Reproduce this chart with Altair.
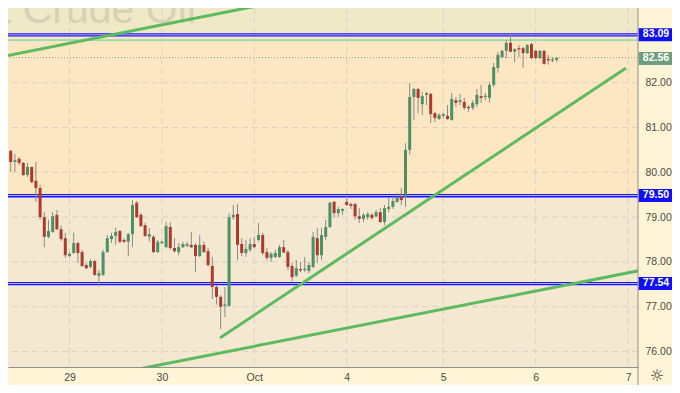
import altair as alt
import pandas as pd

# ---------------- data (hourly candles) ----------------
bar_index = list(range(133))
open_ = [80.10, 80.39, 80.48, 80.23, 80.30, 80.21, 79.94, 80.12, 79.81, 79.65,
         79.00, 78.56, 78.67, 79.05, 78.73, 78.53, 78.13, 78.20, 78.42, 78.22,
         77.93, 77.89, 78.02, 77.69, 77.71, 78.22, 78.51, 78.58, 78.69, 78.49,
         78.45, 78.62, 79.32, 79.05, 78.82, 78.56, 78.56, 78.22, 78.42, 78.33,
         78.78, 78.31, 78.22, 78.33, 78.36, 78.38, 78.38, 78.13, 78.38, 78.24,
         77.91, 77.44, 77.22, 77.02, 77.02, 79.00, 79.07, 78.40, 78.20, 78.27,
         78.40, 78.49, 78.60, 78.22, 78.09, 78.11, 78.11, 78.33, 78.22, 77.91,
         77.69, 77.84, 77.82, 77.80, 77.89, 78.53, 78.15, 78.56, 78.78, 79.34,
         79.09, 79.14, 79.34, 79.29, 79.29, 79.02, 78.96, 79.00, 79.05, 79.02,
         79.11, 78.89, 79.18, 79.23, 79.34, 79.47, 79.45, 80.50, 81.68, 81.86,
         81.52, 81.73, 81.75, 81.32, 81.19, 81.26, 81.26, 81.17, 81.61, 81.57,
         81.57, 81.46, 81.44, 81.52, 81.70, 81.68, 81.66, 81.95, 82.33, 82.57,
         82.71, 82.89, 82.69, 82.77, 82.77, 82.66, 82.86, 82.71, 82.55, 82.71,
         82.53, 82.49, 82.51]
high = [80.45, 80.72, 80.50, 80.41, 80.34, 80.23, 80.21, 80.12, 80.23, 79.72,
        79.11, 78.94, 79.11, 79.16, 78.82, 78.65, 78.22, 78.65, 78.45, 78.27,
        77.98, 78.06, 78.04, 77.82, 78.27, 78.60, 78.65, 78.76, 78.71, 78.53,
        78.65, 79.38, 79.36, 79.09, 78.87, 78.76, 78.60, 78.49, 78.47, 78.89,
        78.89, 78.53, 78.42, 78.45, 78.45, 78.67, 78.42, 78.60, 78.45, 78.31,
        78.11, 77.48, 77.26, 77.44, 79.09, 79.27, 79.29, 78.53, 78.49, 78.53,
        78.56, 78.87, 78.65, 78.31, 78.22, 78.27, 78.38, 78.49, 78.27, 77.98,
        78.04, 78.00, 78.11, 78.00, 78.67, 78.76, 78.76, 78.94, 79.34, 79.36,
        79.23, 79.20, 79.49, 79.32, 79.32, 79.20, 79.09, 79.11, 79.09, 79.16,
        79.20, 79.27, 79.43, 79.43, 79.54, 79.65, 80.65, 82.00, 81.88, 81.88,
        81.79, 81.79, 81.77, 81.35, 81.32, 81.32, 81.50, 81.77, 81.68, 81.75,
        81.66, 81.50, 81.61, 81.86, 81.95, 81.77, 82.02, 82.44, 82.69, 82.73,
        82.95, 83.09, 82.77, 82.84, 82.80, 82.86, 82.89, 82.73, 82.73, 82.73,
        82.62, 82.57, 82.57]
low = [79.98, 80.27, 80.01, 80.01, 80.16, 79.92, 79.90, 79.76, 79.34, 78.94,
       78.33, 78.53, 78.65, 78.71, 78.47, 78.09, 78.11, 78.18, 77.98, 77.89,
       77.84, 77.86, 77.69, 77.46, 77.69, 78.20, 78.42, 78.38, 78.42, 78.42,
       78.13, 78.33, 78.98, 78.78, 78.56, 78.45, 78.20, 78.20, 78.40, 78.31,
       78.27, 78.20, 78.15, 78.31, 78.33, 78.31, 77.77, 78.11, 78.20, 77.89,
       77.17, 77.05, 76.50, 76.77, 77.00, 78.94, 78.04, 78.13, 78.11, 78.22,
       78.31, 78.45, 78.15, 78.04, 78.00, 78.09, 78.09, 78.20, 77.82, 77.57,
       77.66, 77.77, 77.77, 77.75, 77.86, 77.98, 78.04, 78.49, 78.76, 79.00,
       79.00, 79.05, 79.25, 79.18, 78.94, 78.87, 78.89, 78.94, 78.94, 79.00,
       78.87, 78.82, 79.11, 79.18, 79.32, 79.27, 79.23, 80.39, 81.17, 81.32,
       81.28, 81.50, 81.10, 81.12, 81.17, 81.21, 81.17, 81.15, 81.46, 81.50,
       81.39, 81.35, 81.39, 81.46, 81.55, 81.61, 81.55, 81.90, 82.22, 82.55,
       82.55, 82.68, 82.46, 82.57, 82.33, 82.64, 82.53, 82.53, 82.53, 82.40,
       82.40, 82.46, 82.46]
close = [80.39, 80.48, 80.23, 80.27, 80.21, 79.94, 80.12, 79.78, 79.65, 79.00,
         78.56, 78.69, 79.02, 78.73, 78.51, 78.15, 78.18, 78.42, 78.20, 77.91,
         77.86, 78.02, 77.71, 77.75, 78.22, 78.53, 78.58, 78.67, 78.45, 78.45,
         78.62, 79.27, 79.00, 78.80, 78.58, 78.62, 78.22, 78.45, 78.45, 78.80,
         78.31, 78.24, 78.33, 78.40, 78.40, 78.33, 78.13, 78.38, 78.22, 77.93,
         77.44, 77.22, 77.00, 77.04, 79.00, 79.05, 78.38, 78.20, 78.29, 78.40,
         78.33, 78.60, 78.20, 78.09, 78.18, 78.20, 78.33, 78.21, 77.89, 77.66,
         77.86, 77.82, 77.84, 77.93, 78.56, 78.15, 78.60, 78.78, 79.32, 79.09,
         79.18, 79.18, 79.27, 79.25, 79.02, 78.96, 79.05, 79.07, 78.98, 79.11,
         78.89, 79.20, 79.23, 79.36, 79.45, 79.38, 80.50, 81.68, 81.86, 81.66,
         81.70, 81.77, 81.30, 81.21, 81.28, 81.30, 81.19, 81.64, 81.55, 81.61,
         81.44, 81.43, 81.55, 81.73, 81.66, 81.70, 81.95, 82.35, 82.62, 82.71,
         82.89, 82.69, 82.75, 82.75, 82.66, 82.84, 82.55, 82.55, 82.71, 82.42,
         82.51, 82.51, 82.56]

day_ticks = [16, 38, 60, 82, 105, 127, 149]
day_labels = ["29", "30", "Oct", "4", "5", "6", "7"]
price_ticks = [76, 77, 78, 79, 80, 81, 82]

level_values = [83.09, 79.50, 77.54]
level_labels = ["83.09", "79.50", "77.54"]
last_price = 82.56
last_label = "82.56"
mint_level = 82.95

trend_x1 = [-5, 52.07, 33]
trend_y1 = [82.49, 76.32, 75.62]
trend_x2 = [75, 148.26, 153]
trend_y2 = [83.98, 82.31, 77.83]

zone_lo = [83.09, 79.50, 75.0]
zone_hi = [84.5, 83.09, 79.50]
zone_color = ["#EFE9C8", "#FDE6C2", "#F4E8D0"]

watermark = "Brent Crude Oil"

# ---------------- build ----------------
W, H = 630, 359          # plot area
PR, PB = 34, 18          # room for the price scale and the time scale
X = alt.Scale(domain=[1.357, 151.36], nice=False, zero=False)
Y = alt.Scale(domain=[75.655, 83.667], nice=False, zero=False)
FONT = "Liberation Sans"

expr = "''"
for v, l in reversed(list(zip(day_ticks, day_labels))):
    expr = f"datum.value == {v} ? '{l}' : ({expr})"

x_axis = alt.Axis(values=day_ticks, labelExpr=expr, title=None, grid=False, ticks=False,
                  domainColor="#8E8E8E", labelPadding=5, labelColor="#4A4A4A",
                  labelFontSize=10.5, labelFont=FONT, labelOverlap=False, labelFlush=False)
y_axis = alt.Axis(values=price_ticks, format=".2f", orient="right", title=None, grid=False,
                  ticks=False, domain=False, labelPadding=7, labelColor="#4A4A4A",
                  labelFontSize=10.5, labelFont=FONT, labelOverlap=False, labelFlush=False)

candles = pd.DataFrame({"i": bar_index, "o": open_, "h": high, "l": low, "c": close})
candles["dir"] = ["up" if c >= o else "down" for o, c in zip(candles.o, candles.c)]
candles["cd"] = [c if abs(c - o) >= 0.03 else (o + 0.03 if c >= o else o - 0.03)
                 for o, c in zip(candles.o, candles.c)]

zones = pd.DataFrame({"lo": zone_lo, "hi": zone_hi, "col": zone_color})
zone_layer = alt.Chart(zones).mark_rect(clip=True).encode(
    x=alt.value(0), x2=alt.value(W),
    y=alt.Y("lo:Q", scale=Y, axis=y_axis), y2="hi:Q",
    color=alt.Color("col:N", scale=None))

hgrid = alt.Chart(pd.DataFrame({"p": price_ticks})).mark_rule(
    color="#D8D3C6", strokeDash=[6, 4], strokeWidth=1).encode(
    y=alt.Y("p:Q", scale=Y, axis=y_axis))
vgrid = alt.Chart(pd.DataFrame({"d": day_ticks})).mark_rule(
    color="#D8D3C6", strokeDash=[6, 4], strokeWidth=1).encode(
    x=alt.X("d:Q", scale=X, axis=x_axis))

wm = alt.Chart(pd.DataFrame({"x": [46.1], "y": [83.33], "t": [watermark]})).mark_text(
    align="right", baseline="alphabetic", fontSize=41, color="#D9D1B3", font=FONT, clip=True
).encode(x=alt.X("x:Q", scale=X, axis=x_axis), y=alt.Y("y:Q", scale=Y, axis=y_axis), text="t:N")

mint = alt.Chart(pd.DataFrame({"p": [mint_level]})).mark_rule(
    color="#96DDB0", strokeWidth=1.6).encode(y=alt.Y("p:Q", scale=Y, axis=y_axis))
lastline = alt.Chart(pd.DataFrame({"p": [last_price]})).mark_rule(
    color="#8AA58F", strokeDash=[1, 2], strokeWidth=1).encode(y=alt.Y("p:Q", scale=Y, axis=y_axis))

lv = pd.DataFrame({"p": level_values + [v - 0.045 for v in level_values]})
levels = alt.Chart(lv).mark_rule(color="#1515FF", strokeWidth=1.3).encode(
    y=alt.Y("p:Q", scale=Y, axis=y_axis))

trends = pd.DataFrame({"x1": trend_x1, "y1": trend_y1, "x2": trend_x2, "y2": trend_y2})
trend_layer = alt.Chart(trends).mark_rule(
    clip=True, color="#5DBB5F", strokeWidth=3, strokeCap="round").encode(
    x=alt.X("x1:Q", scale=X, axis=x_axis), x2="x2:Q",
    y=alt.Y("y1:Q", scale=Y, axis=y_axis), y2="y2:Q")

wicks = alt.Chart(candles).mark_rule(clip=True, color="#8A8A8A", strokeWidth=1).encode(
    x=alt.X("i:Q", scale=X, axis=x_axis),
    y=alt.Y("l:Q", scale=Y, axis=y_axis), y2="h:Q")
bodies = alt.Chart(candles).mark_rule(clip=True, strokeWidth=3).encode(
    x=alt.X("i:Q", scale=X, axis=x_axis),
    y=alt.Y("o:Q", scale=Y, axis=y_axis), y2="cd:Q",
    color=alt.Color("dir:N", scale=alt.Scale(domain=["up", "down"], range=["#4C9066", "#AE3A2E"]),
                    legend=None))

lab = pd.DataFrame({"p": level_values + [last_price], "t": level_labels + [last_label],
                    "col": ["#1010F2"] * 3 + ["#6F9F7E"]})
lab["lo"] = lab.p - 0.165
lab["hi"] = lab.p + 0.125
label_box = alt.Chart(lab).mark_rect().encode(
    x=alt.value(W + 0.5), x2=alt.value(W + PR),
    y=alt.Y("lo:Q", scale=Y, axis=y_axis), y2="hi:Q",
    color=alt.Color("col:N", scale=None))
label_txt = alt.Chart(lab).mark_text(
    color="white", fontWeight="bold", fontSize=10.5, font=FONT, align="center", baseline="middle"
).encode(x=alt.value(W + 18), y=alt.Y("p:Q", scale=Y, axis=y_axis), text="t:N")

one = pd.DataFrame({"a": [0]})
sep = alt.Chart(one).mark_rule(color="#8E8E8E", strokeWidth=1).encode(
    x=alt.value(W), y=alt.value(0), y2=alt.value(H + PB))
gear = alt.Chart(one).mark_text(text="☼", fontSize=16, color="#333333", font="DejaVu Sans",
                                baseline="middle").encode(
    x=alt.value(W + 19), y=alt.value(H + 9))

chart = alt.layer(
    zone_layer, hgrid, vgrid, wm, mint, lastline, levels, trend_layer, wicks, bodies,
    label_box, label_txt, sep, gear
).properties(
    width=W, height=H,
    padding={"left": 0, "top": 0, "right": PR, "bottom": PB},
    autosize=alt.AutoSizeParams(type="none"),
    background="#FFF4D6",
).configure_view(stroke=None)

chart.save("out.html", embed_options={"renderer": "svg", "actions": False})
